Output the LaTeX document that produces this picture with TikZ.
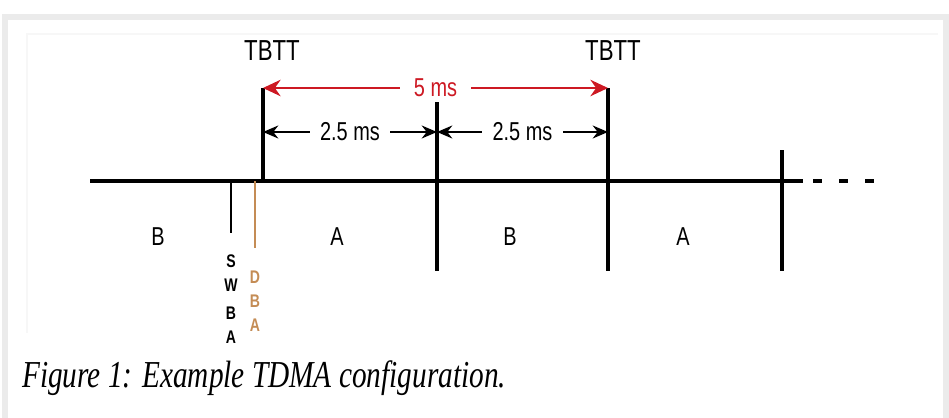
\documentclass[tikz,border=0pt]{standalone}
\usepackage{fontspec}
\setmainfont{Liberation Serif}
\setsansfont{Liberation Sans}
\usepackage{graphicx}
\usetikzlibrary{arrows.meta}
\definecolor{framegray}{RGB}{235,235,235}
\definecolor{beaconred}{RGB}{205,25,35}
\definecolor{dbaorange}{RGB}{196,140,85}
\newcommand{\tallbox}[1]{\scalebox{1}[1.3]{#1}}

\begin{document}
\begin{tikzpicture}[x=0.03cm, y=-0.03cm,
    timeline/.style={line width=2.8pt},
    slotlabel/.style={font=\sffamily\fontsize{17}{20}\selectfont, inner sep=0pt},
    tbttlabel/.style={font=\sffamily\fontsize{19}{22}\selectfont, inner sep=0pt},
    spanlabel/.style={font=\sffamily\fontsize{17}{20}\selectfont, fill=white, inner ysep=2pt},
    alertlabel/.style={font=\sffamily\bfseries\fontsize{12}{14}\selectfont, inner sep=0pt},
    halfarrow/.style={line width=1.9pt, {Stealth[length=13pt,width=11pt]}-{Stealth[length=13pt,width=11pt]}},
    fullarrow/.style={line width=2pt, beaconred, {Stealth[length=15pt,width=14pt]}-{Stealth[length=15pt,width=14pt]}}]
    \useasboundingbox (0,0) rectangle (949,417);
    % frame round the figure
    \draw[framegray, line width=0.18cm] (5,420) -- (5,16.5) -- (946,16.5) -- (946,420);
    \draw[black!3, line width=1.2pt] (27,333) -- (27,34) -- (938,34);

    % time axis
    \coordinate (axisstart) at (90,181);
    \coordinate (axisend) at (803,181);
    \coordinate (dashstart) at (813,181);
    \coordinate (dashend) at (875,181);
    \draw[timeline] (axisstart) -- (axisend);
    \draw[timeline, dash pattern=on 0.27cm off 0.51cm] (dashstart) -- (dashend);

    % slot borders
    \coordinate (tbttA) at (263,88);
    \coordinate (tbttAbot) at (263,181);
    \coordinate (midtop) at (437,102);
    \coordinate (midbot) at (437,271);
    \coordinate (tbttB) at (608,88);
    \coordinate (tbttBbot) at (608,271);
    \coordinate (fartop) at (782,150);
    \coordinate (farbot) at (782,271);
    \draw[timeline] (tbttA) -- (tbttAbot);
    \draw[timeline] (midtop) -- (midbot);
    \draw[timeline] (tbttB) -- (tbttBbot);
    \draw[timeline] (fartop) -- (farbot);

    % alerts before the beacon
    \coordinate (swbatop) at (231,181);
    \coordinate (swbabot) at (231,233);
    \coordinate (dbatop) at (255,181);
    \coordinate (dbabot) at (255,248);
    \draw[line width=1.8pt] (swbatop) -- (swbabot);
    \draw[dbaorange, line width=1.8pt] (dbatop) -- (dbabot);
    \foreach \ch/\yy in {S/261, W/285, B/313, A/337}
        \node[alertlabel] (swba\ch) at (231,\yy) {\tallbox{\ch}};
    \foreach \ch/\yy in {D/277, B/301, A/325}
        \node[alertlabel, text=dbaorange] (dba\ch) at (255,\yy) {\tallbox{\ch}};

    \node[tbttlabel] (tbttAtext) at (272,51) {\tallbox{TBTT}};
    \node[tbttlabel] (tbttBtext) at (613,51) {\tallbox{TBTT}};

    % beacon interval
    \draw[fullarrow] (tbttA) -- (tbttB)
        node[midway, spanlabel, inner xsep=12pt, text=beaconred] (fullspan) {\tallbox{5 ms}};
    \coordinate (halfA) at (263,132);
    \coordinate (halfM) at (437,132);
    \coordinate (halfB) at (608,132);
    \draw[halfarrow] (halfA) -- (halfM) node[midway, spanlabel, inner xsep=9pt] (halfspanA) {\tallbox{2.5 ms}};
    \draw[halfarrow] (halfM) -- (halfB) node[midway, spanlabel, inner xsep=9pt] (halfspanB) {\tallbox{2.5 ms}};

    \node[slotlabel] (slotB0) at (158,237) {\tallbox{B}};
    \node[slotlabel] (slotA1) at (337,237) {\tallbox{A}};
    \node[slotlabel] (slotB1) at (510,237) {\tallbox{B}};
    \node[slotlabel] (slotA2) at (683,237) {\tallbox{A}};

    \node[anchor=base west, inner sep=0pt, font=\itshape\fontsize{25}{30}\selectfont] (caption) at (22,387)
        {\tallbox{Figure 1: Example TDMA configuration.}};
\end{tikzpicture}
\end{document}
